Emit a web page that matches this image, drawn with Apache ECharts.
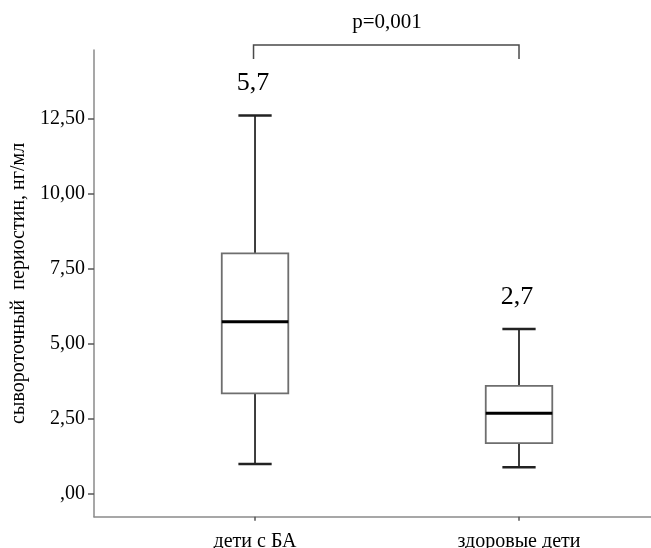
<!DOCTYPE html>
<html>
<head>
<meta charset="utf-8">
<script src="https://cdn.jsdelivr.net/npm/echarts@6/dist/echarts.min.js"></script>
<style>html,body{margin:0;padding:0;background:#fff}#c{width:651px;height:548px}</style>
</head>
<body>
<div id="c"></div>
<script>
const categories = ['дети с БА', 'здоровые дети'];
const whiskerLow = [0.98, 0.87];
const q1 = [3.33, 1.67];
const medians = [5.72, 2.67];
const q3 = [8.0, 3.58];
const whiskerHigh = [12.6, 5.48];
const medianLabels = ['5,7', '2,7'];
const yTicks = [0, 2.5, 5, 7.5, 10, 12.5];
const yTickLabels = [',00', '2,50', '5,00', '7,50', '10,00', '12,50'];
const yAxisName = 'сывороточный  периостин, нг/мл';
const pValueText = 'p=0,001';

const FONT = '"Liberation Serif", "Times New Roman", serif';
const yMin = -0.78, yMax = 14.78;

const boxData = categories.map((c, i) => [i + 1, whiskerLow[i], q1[i], medians[i], q3[i], whiskerHigh[i]]);

const chart = echarts.init(document.getElementById('c'), null, {renderer: 'canvas'});
chart.setOption({
  animation: false,
  backgroundColor: '#fff',
  grid: {left: 94, right: 0, top: 50, bottom: 31.3, containLabel: false, outerBoundsMode: 'none'},
  xAxis: {
    type: 'value', min: 0.39, max: 2.5,
    splitLine: {show: false},
    axisLine: {show: true, onZero: false, lineStyle: {color: '#8a8a8a', width: 1.5}},
    axisTick: {show: true, customValues: [1, 2], length: 4, lineStyle: {color: '#555', width: 1.5}},
    axisLabel: {customValues: [1, 2], margin: 15, color: '#000', fontSize: 20, fontFamily: FONT,
      formatter: v => categories[Math.round(v) - 1] || ''}
  },
  yAxis: {
    type: 'value', min: yMin, max: yMax,
    name: yAxisName, nameLocation: 'middle', nameGap: 63,
    nameTextStyle: {color: '#000', fontSize: 20, fontFamily: FONT},
    splitLine: {show: false},
    axisLine: {show: true, onZero: false, lineStyle: {color: '#8a8a8a', width: 1.5}},
    axisTick: {show: true, customValues: yTicks, length: 6, lineStyle: {color: '#555', width: 1.5}},
    axisLabel: {customValues: yTicks, margin: 9, color: '#000', fontSize: 20, fontFamily: FONT,
      formatter: v => {
        const i = yTicks.findIndex(t => Math.abs(t - v) < 1e-6);
        return i >= 0 ? yTickLabels[i] : '';
      }}
  },
  series: [
    {
      type: 'custom',
      clip: false,
      data: boxData,
      renderItem: function (params, api) {
        const x = api.value(0);
        const pLo = api.coord([x, api.value(1)]);
        const pQ1 = api.coord([x, api.value(2)]);
        const pMed = api.coord([x, api.value(3)]);
        const pQ3 = api.coord([x, api.value(4)]);
        const pHi = api.coord([x, api.value(5)]);
        const hw = api.size([0.252, 0])[0] / 2;
        const cap = hw / 2;
        const cx = pMed[0];
        const whisk = {stroke: '#3c3c3c', lineWidth: 2};
        return {
          type: 'group',
          children: [
            {type: 'line', shape: {x1: cx, y1: pHi[1], x2: cx, y2: pQ3[1]}, style: whisk},
            {type: 'line', shape: {x1: cx, y1: pQ1[1], x2: cx, y2: pLo[1]}, style: whisk},
            {type: 'line', shape: {x1: cx - cap, y1: pHi[1], x2: cx + cap, y2: pHi[1]}, style: {stroke: '#222', lineWidth: 2.5}},
            {type: 'line', shape: {x1: cx - cap, y1: pLo[1], x2: cx + cap, y2: pLo[1]}, style: {stroke: '#222', lineWidth: 2.5}},
            {type: 'rect', shape: {x: cx - hw, y: pQ3[1], width: hw * 2, height: pQ1[1] - pQ3[1]},
              style: {fill: '#fff', stroke: '#6e6e6e', lineWidth: 1.8}},
            {type: 'line', shape: {x1: cx - hw, y1: pMed[1], x2: cx + hw, y2: pMed[1]}, style: {stroke: '#000', lineWidth: 3}},
            {type: 'text', style: {text: medianLabels[params.dataIndex], x: cx - 2, y: pHi[1] - 32,
              align: 'center', verticalAlign: 'middle', fill: '#000', font: '26px ' + FONT}}
          ]
        };
      }
    },
    {
      type: 'custom',
      clip: false,
      data: [[1, 2]],
      renderItem: function (params, api) {
        const a = api.coord([api.value(0), yMax]);
        const b = api.coord([api.value(1), yMax]);
        const top = a[1] - 5;
        const st = {stroke: '#4a4a4a', lineWidth: 1.5, fill: null};
        return {
          type: 'group',
          children: [
            {type: 'polyline', shape: {points: [[a[0] - 1.5, top + 14], [a[0] - 1.5, top], [b[0], top], [b[0], top + 14]]}, style: st},
            {type: 'text', style: {text: pValueText, x: (a[0] + b[0]) / 2, y: top - 23,
              align: 'center', verticalAlign: 'middle', fill: '#000', font: '21px ' + FONT}}
          ]
        };
      }
    }
  ]
});
</script>
</body>
</html>
